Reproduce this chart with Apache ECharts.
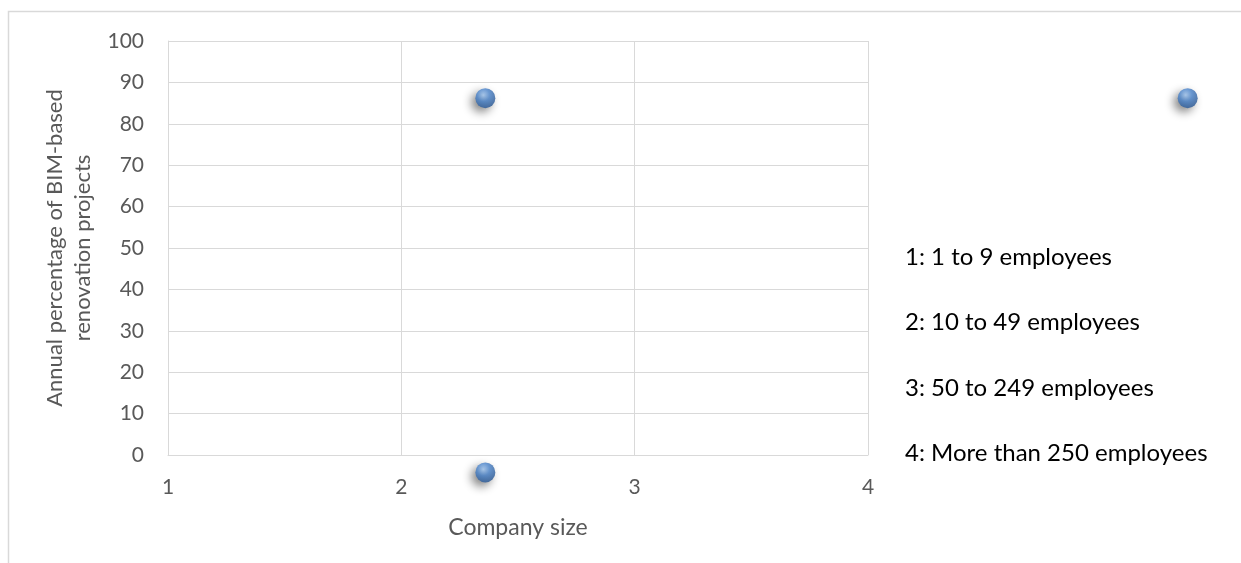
<!DOCTYPE html>
<html>
<head>
<meta charset="utf-8">
<script src="https://cdn.jsdelivr.net/npm/echarts@6/dist/echarts.min.js"></script>
<style>
  html, body { margin: 0; padding: 0; background: #fff; }
  #chart { width: 1241px; height: 563px; }
</style>
</head>
<body>
<div id="chart"></div>
<script>
// Company size (x) against annual share of BIM-based renovation projects (y)
const companySize = [2.36, 2.36, 5.37];
const bimShare = [86.2, -4.2, 86.2];
const xTicks = [1, 2, 3, 4];
const yTicks = [0, 10, 20, 30, 40, 50, 60, 70, 80, 90, 100];
const sizeClasses = [
  '1: 1 to 9 employees',
  '2: 10 to 49 employees',
  '3: 50 to 249 employees',
  '4: More than 250 employees'
];

const FONT = 'Lato, "Open Sans", sans-serif';
const points = companySize.map((x, i) => [x, bimShare[i]]);

const chart = echarts.init(document.getElementById('chart'), null, { renderer: 'canvas' });

chart.setOption({
  animation: false,
  backgroundColor: '#ffffff',
  grid: { left: 168, right: 373, top: 41, bottom: 108, containLabel: false },
  xAxis: {
    type: 'value',
    min: xTicks[0],
    max: xTicks[xTicks.length - 1],
    interval: 1,
    name: 'Company size',
    nameLocation: 'middle',
    nameGap: 61,
    nameTextStyle: { color: '#595959', fontSize: 23, fontFamily: FONT },
    axisLine: { show: true, lineStyle: { color: '#d9d9d9', width: 1 } },
    axisTick: { show: false },
    axisLabel: { color: '#595959', fontSize: 21, fontFamily: FONT, margin: 22 },
    splitLine: { show: true, lineStyle: { color: '#d9d9d9', width: 1 } }
  },
  yAxis: {
    type: 'value',
    min: yTicks[0],
    max: yTicks[yTicks.length - 1],
    interval: 10,
    name: 'Annual percentage of BIM-based\nrenovation projects',
    nameLocation: 'middle',
    nameGap: 58,
    nameTextStyle: { color: '#595959', fontSize: 22, fontFamily: FONT, lineHeight: 28 },
    axisLine: { show: true, lineStyle: { color: '#d9d9d9', width: 1 } },
    axisTick: { show: false },
    axisLabel: { color: '#595959', fontSize: 21, fontFamily: FONT, margin: 24 },
    splitLine: { show: true, lineStyle: { color: '#d9d9d9', width: 1 } }
  },
  graphic: [
    {
      type: 'rect',
      silent: true,
      shape: { x: 8.5, y: 11.5, width: 1300, height: 700 },
      style: { fill: 'none', stroke: '#d9d9d9', lineWidth: 1.5 },
      z: -10
    },
    {
      type: 'group',
      left: 905,
      top: 245,
      children: sizeClasses.map((t, i) => ({
        type: 'text',
        x: 0,
        y: i * 65.5,
        style: { text: t, fill: '#000000', fontSize: 24, fontFamily: FONT }
      }))
    }
  ],
  series: [
    {
      type: 'scatter',
      data: points,
      clip: false,
      symbol: 'circle',
      symbolSize: 20,
      itemStyle: {
        color: {
          type: 'radial',
          x: 0.4, y: 0.35, r: 0.7,
          colorStops: [
            { offset: 0, color: '#a3c8f2' },
            { offset: 0.45, color: '#4a84cc' },
            { offset: 1, color: '#24528f' }
          ]
        },
        shadowBlur: 10,
        shadowOffsetX: -4,
        shadowOffsetY: 4,
        shadowColor: 'rgba(0,0,0,0.6)'
      }
    }
  ]
});
</script>
</body>
</html>
